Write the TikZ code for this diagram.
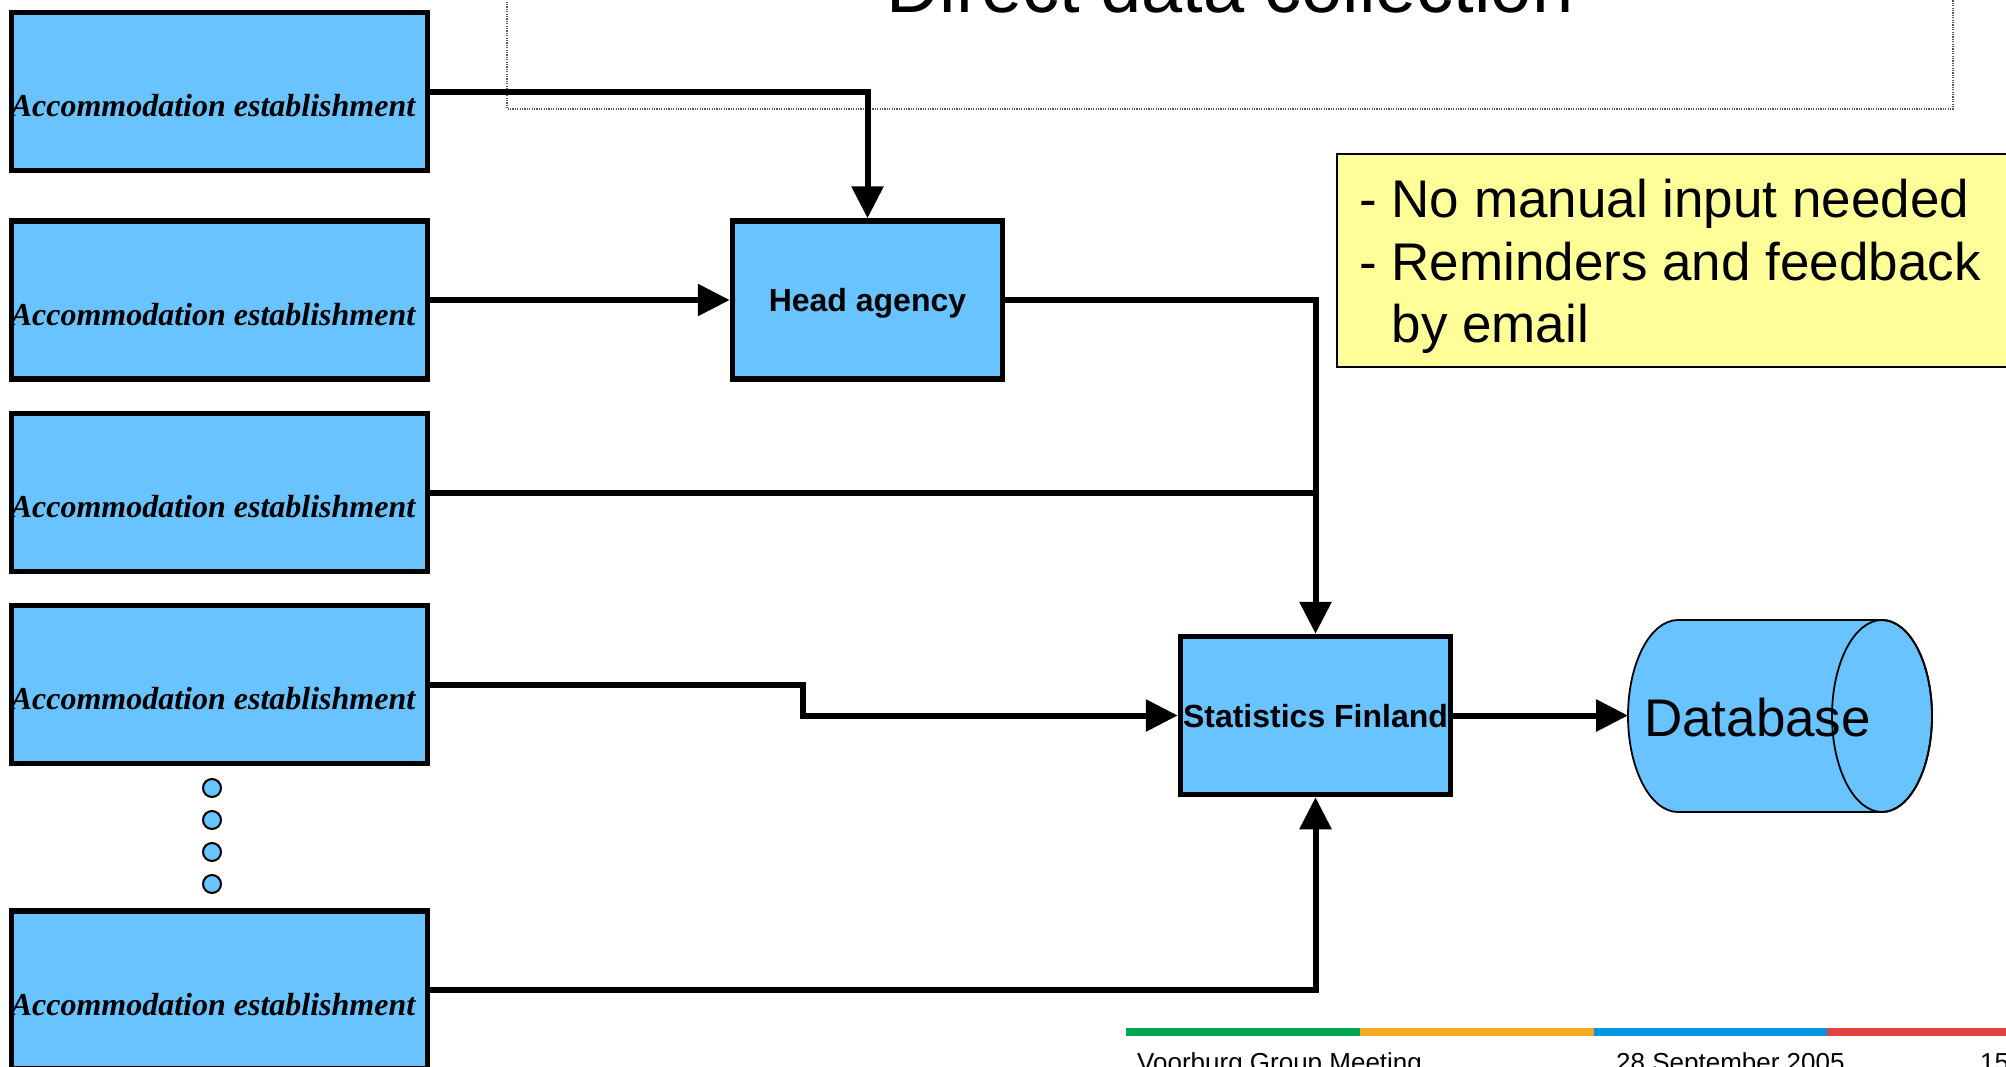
\documentclass[tikz,border=0pt]{standalone}
\usepackage{fontspec}
\setmainfont{Liberation Serif}
\setsansfont{Liberation Sans}
\usetikzlibrary{arrows.meta}
\definecolor{boxblue}{RGB}{104,195,255}
\definecolor{noteyellow}{RGB}{255,255,153}
\definecolor{bargreen}{RGB}{0,166,81}
\definecolor{barorange}{RGB}{245,171,32}
\definecolor{barblue}{RGB}{4,150,225}
\definecolor{barred}{RGB}{225,66,66}
\tikzset{
  accbox/.style={draw, line width=5.5pt, fill=boxblue, minimum width=416pt, minimum height=158pt, inner sep=0pt},
  acctext/.style={font=\fontsize{32}{38}\selectfont\bfseries\itshape, inner sep=0pt},
  mainbox/.style={draw, line width=5.5pt, fill=boxblue, minimum width=270pt, minimum height=158pt, inner sep=0pt,
    font=\sffamily\bfseries\fontsize{32}{38}\selectfont, text height=23pt, text depth=0pt},
  conn/.style={line width=6pt},
  arr/.style={conn, -{Triangle[length=32pt,width=31pt]}},
  dotc/.style={circle, draw, line width=2pt, fill=boxblue, minimum size=18pt, inner sep=0pt},
  notetext/.style={font=\sffamily\fontsize{53}{61}\selectfont, inner sep=0pt, anchor=base west},
  foot/.style={font=\sffamily\fontsize{26}{30}\selectfont, inner sep=0pt, anchor=base west}
}
\begin{document}
\begin{tikzpicture}[x=1pt,y=-1pt]
\useasboundingbox (0,0) rectangle (2006,1066);
\clip (0,0) rectangle (2006,1066);
\fill[white] (0,0) rectangle (2006,1066);

% title frame
\draw[gray!70!black, line width=1.3pt, dash pattern=on 1.2pt off 1.2pt] (507,-20) rectangle (1953,109);
\node[font=\sffamily\fontsize{74}{80}\selectfont, inner sep=0pt, anchor=base] (title) at (1230,12) {Direct data collection};

% note
\draw[line width=1.6pt, fill=noteyellow] (1337,154) rectangle (2030,367);
\node[notetext] (note1) at (1359,217) {- No manual input needed};
\node[notetext] (note2) at (1359,280) {- Reminders and feedback};
\node[notetext] (note3) at (1359,342) {\hphantom{-}\ by email};

% accommodation boxes
\node[accbox, label={[acctext, xshift=-6.5pt, yshift=-14.5pt]center:Accommodation establishment}] (a1) at (219.5,91.5) {};
\node[accbox, label={[acctext, xshift=-6.5pt, yshift=-14.5pt]center:Accommodation establishment}] (a2) at (219.5,300) {};
\node[accbox, label={[acctext, xshift=-6.5pt, yshift=-14.5pt]center:Accommodation establishment}] (a3) at (219.5,492.5) {};
\node[accbox, label={[acctext, xshift=-6.5pt, yshift=-14.5pt]center:Accommodation establishment}] (a4) at (219.5,684.5) {};
\node[accbox, label={[acctext, xshift=-6.5pt, yshift=-14.5pt]center:Accommodation establishment}] (a5) at (219.5,990) {};

% dots
\node[dotc] (d1) at (212,788) {};
\node[dotc] (d2) at (212,820) {};
\node[dotc] (d3) at (212,852) {};
\node[dotc] (d4) at (212,884) {};

% main boxes
\node[mainbox] (ha) at (867.5,300) {Head agency};
\node[mainbox] (sf) at (1315.5,715.5) {Statistics Finland};

% database cylinder
\filldraw[fill=boxblue, line width=1.8pt] (1882,620) -- (1678,620)
  arc[start angle=90, end angle=270, x radius=50pt, y radius=96pt] -- (1882,812)
  arc[start angle=270, end angle=450, x radius=50pt, y radius=96pt] -- cycle;
\draw[line width=1.8pt] (1882,716) ellipse [x radius=50pt, y radius=96pt];
\coordinate (dbl) at (1628,716);
\node[font=\sffamily\fontsize{53}{60}\selectfont, inner sep=0pt, text height=38pt, text depth=0pt] (db) at (1757.5,717) {Database};

% connectors
\coordinate (bend4) at (803,0);
\draw[arr] (a1.east) -| (ha.north);
\draw[arr] (a2.east) -- (ha.west);
\draw[arr] (ha.east) -| (sf.north);
\draw[conn] (a3.east) -- (a3.east -| sf.north);
\draw[arr] (a4.east) -- (a4.east -| bend4) |- (sf.west);
\draw[arr] (a5.east) -| (sf.south);
\draw[arr] (sf.east) -- (sf.east -| dbl);

% footer
\fill[bargreen] (1126,1028) rectangle (1360,1036);
\fill[barorange] (1360,1028) rectangle (1594,1036);
\fill[barblue] (1594,1028) rectangle (1827,1036);
\fill[barred] (1827,1028) rectangle (2006,1036);
\node[foot] (f1) at (1137,1071) {Voorburg Group Meeting};
\node[foot] (f2) at (1616,1071) {28 September 2005};
\node[foot] (f3) at (1980,1071) {15};
\end{tikzpicture}
\end{document}
